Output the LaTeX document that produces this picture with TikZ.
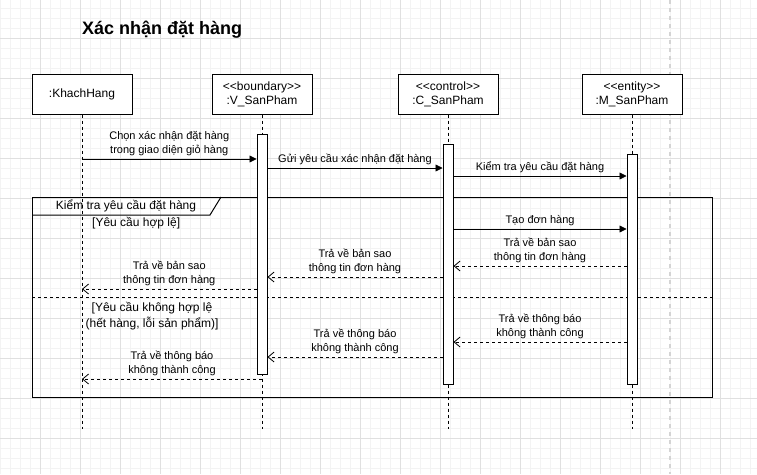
\documentclass[tikz,border=0pt]{standalone}
\usepackage{fontspec}
\setmainfont{Liberation Sans}
\usetikzlibrary{positioning,arrows.meta}
\definecolor{gridminor}{HTML}{F3F3F3}
\definecolor{gridmajor}{HTML}{E0E0E0}
\definecolor{pagebreak}{HTML}{D4D4D4}
\tikzset{
	x=1pt,y=-1pt,
	head/.style={rectangle,draw=black,fill=white,line width=1pt,minimum width=100pt,minimum height=40pt,align=center,inner sep=1pt,font=\fontsize{12}{14}\selectfont},
	act/.style={rectangle,draw=black,fill=white,line width=1pt,minimum width=10pt,inner sep=0pt},
	lifeline/.style={line width=0.8pt,dash pattern=on 3pt off 3pt},
	call/.style={-{Triangle[length=7pt,width=7pt]},line width=0.8pt},
	reply/.style={-{Straight Barb[length=6pt,width=10pt]},line width=0.8pt,dash pattern=on 3pt off 3pt},
	lbl/.style={font=\fontsize{11}{13.5}\selectfont,align=center,inner sep=1pt},
	guard/.style={font=\fontsize{12}{16}\selectfont,align=center,inner sep=0pt},
	title/.style={font=\fontsize{18}{20}\selectfont\bfseries,inner sep=0pt},
	frame/.style={draw=black,line width=1pt},
	minorline/.style={draw=gridminor,line width=0.8pt},
	majorline/.style={draw=gridmajor,line width=0.8pt},
	pagebrk/.style={draw=pagebreak,line width=1.5pt,dash pattern=on 4pt off 4pt}
}
\newcommand{\stereo}[1]{<{}<#1>{}>}
\begin{document}
\begin{tikzpicture}
\useasboundingbox[fill=white] (0,0) rectangle (757,474);
% background grid
\foreach \gx in {0,...,75} \draw[minorline] (\gx*10+0.5,0) -- (\gx*10+0.5,474);
\foreach \gy in {0,...,46} \draw[minorline] (0,\gy*10+8.5) -- (757,\gy*10+8.5);
\foreach \gx in {1,...,18} \draw[majorline] (\gx*40+0.5,0) -- (\gx*40+0.5,474);
\foreach \gy in {0,...,11} \draw[majorline] (0,\gy*40+38.5) -- (757,\gy*40+38.5);
\draw[pagebrk] (670,0) -- (670,474);

\node[title,anchor=west] (diagTitle) at (82,30) {Xác nhận đặt hàng};

% lifeline heads
\node[head] (KhachHang) at (82,94) {:KhachHang};
\node[head] (VSanPham) [right=79pt of KhachHang] {\stereo{boundary}\\:V\_SanPham};
\node[head] (CSanPham) [right=85pt of VSanPham] {\stereo{control}\\:C\_SanPham};
\node[head] (MSanPham) [right=83pt of CSanPham] {\stereo{entity}\\:M\_SanPham};

% alt frame
\draw[frame] (32,197) rectangle (712,397);
\draw[frame] (32,215) -- (210,215) -- (221,197);
\node[guard] (altLabel) at (126,206) {Kiểm tra yêu cầu đặt hàng};
\draw[lifeline] (32,297) -- (712,297);
\node[guard,anchor=west] (okGuard) at (92,223) {[Yêu cầu hợp lệ]};
\node[guard] (failGuard) at (152,316) {[Yêu cầu không hợp lệ\\(hết hàng, lỗi sản phẩm)]};

% lifelines
\draw[lifeline] (KhachHang.south) -- (KhachHang.south |- 0,429);
\draw[lifeline] (VSanPham.south) -- (VSanPham.south |- 0,429);
\draw[lifeline] (CSanPham.south) -- (CSanPham.south |- 0,429);
\draw[lifeline] (MSanPham.south) -- (MSanPham.south |- 0,429);

% activations
\node[act,minimum height=240pt,anchor=north] (Vact) [below=19pt of VSanPham] {};
\node[act,minimum height=240pt,anchor=north] (Cact) [below=29pt of CSanPham] {};
\node[act,minimum height=230pt,anchor=north] (Mact) [below=39pt of MSanPham] {};

% messages
\draw[call] (KhachHang |- 0,159) -- (Vact.west |- 0,159)
   node[lbl,midway,above=2pt] {Chọn xác nhận đặt hàng\\trong giao diện giỏ hàng};
\draw[call] (Vact.east |- 0,168) -- (Cact.west |- 0,168)
   node[lbl,midway,above=2pt] {Gửi yêu cầu xác nhận đặt hàng};
\draw[call] (Cact.east |- 0,176) -- (Mact.west |- 0,176)
   node[lbl,midway,above=2pt] {Kiểm tra yêu cầu đặt hàng};
\draw[call] (Cact.east |- 0,229) -- (Mact.west |- 0,229)
   node[lbl,midway,above=2pt] {Tạo đơn hàng};
\draw[reply] (Mact.west |- 0,266) -- (Cact.east |- 0,266)
   node[lbl,midway,above=2pt] {Trả về bản sao\\thông tin đơn hàng};
\draw[reply] (Cact.west |- 0,277) -- (Vact.east |- 0,277)
   node[lbl,midway,above=2pt] {Trả về bản sao\\thông tin đơn hàng};
\draw[reply] (Vact.west |- 0,289) -- (KhachHang |- 0,289)
   node[lbl,midway,above=2pt] {Trả về bản sao\\thông tin đơn hàng};
\draw[reply] (Mact.west |- 0,342) -- (Cact.east |- 0,342)
   node[lbl,midway,above=2pt] {Trả về thông báo\\không thành công};
\draw[reply] (Cact.west |- 0,357) -- (Vact.east |- 0,357)
   node[lbl,midway,above=2pt] {Trả về thông báo\\không thành công};
\draw[reply] (VSanPham |- 0,379) -- (KhachHang |- 0,379)
   node[lbl,midway,above=2pt] {Trả về thông báo\\không thành công};
\end{tikzpicture}
\end{document}
